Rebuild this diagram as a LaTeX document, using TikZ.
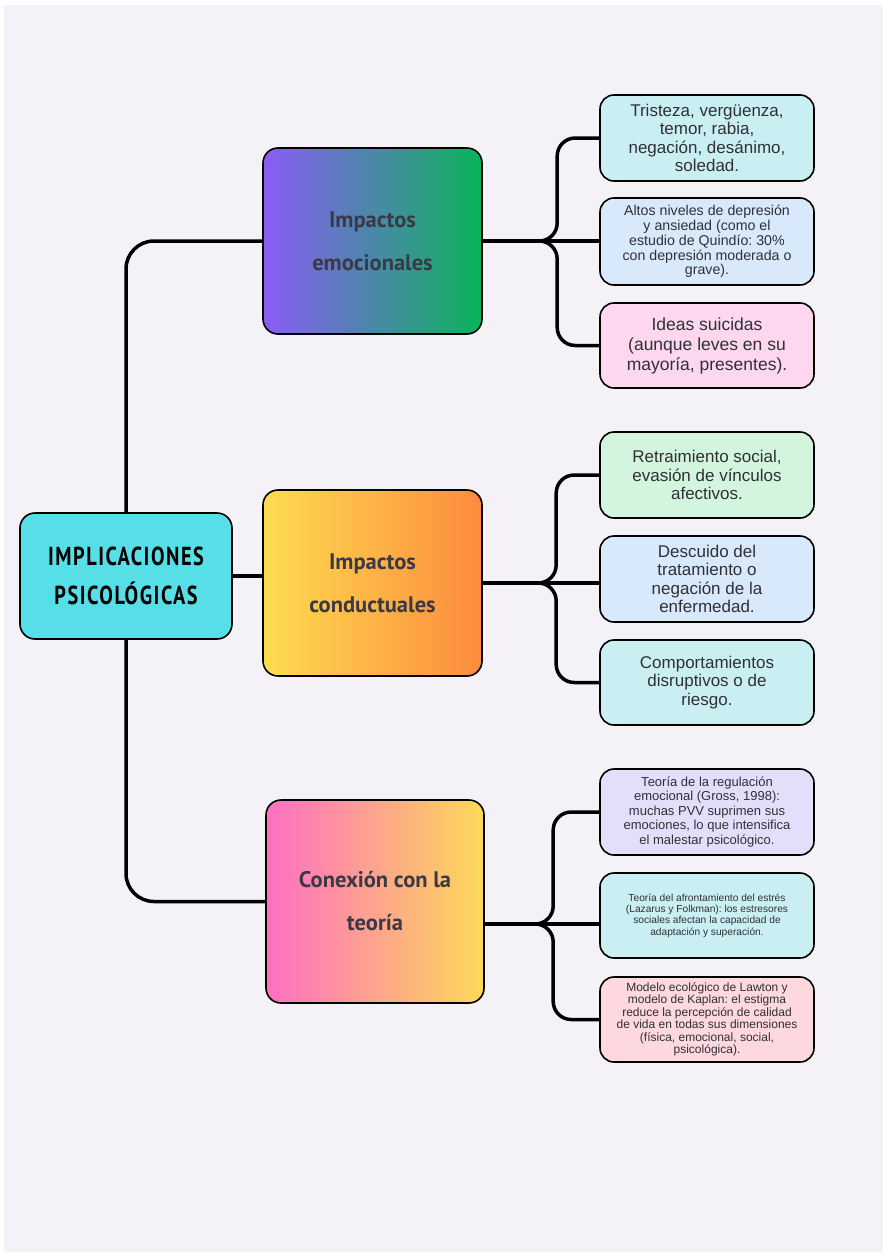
\documentclass[tikz,border=0pt]{standalone}
\usepackage{fontspec}
\setmainfont{Liberation Sans}
\newfontfamily\headfont{PT Sans}
\newfontfamily\rootfont{PT Sans}[FakeStretch=0.78,LetterSpace=6]
\usepackage{xcolor}
\definecolor{PageGray}{HTML}{F4F2F6}
\definecolor{InkGray}{HTML}{3A3946}
\definecolor{LeafInk}{HTML}{303036}
\definecolor{RootCyan}{HTML}{56DFE6}
\definecolor{EmoLeft}{HTML}{8B5CF6}
\definecolor{EmoRight}{HTML}{0AB45A}
\definecolor{CondLeft}{HTML}{FEDC4F}
\definecolor{CondRight}{HTML}{FD8B3E}
\definecolor{TeoLeft}{HTML}{FE6FC3}
\definecolor{TeoRight}{HTML}{FDD958}
\definecolor{LeafCyan}{HTML}{C9EFF2}
\definecolor{LeafBlue}{HTML}{D7E9FB}
\definecolor{LeafPink}{HTML}{FDD7F0}
\definecolor{LeafGreen}{HTML}{D3F5DD}
\definecolor{LeafLilac}{HTML}{E3DFFB}
\definecolor{LeafRose}{HTML}{FDD8DF}
\frenchspacing

\begin{document}
\begin{tikzpicture}[x=1pt, y=-1pt,
  topic/.style={draw=black, line width=1.6pt, rounded corners=15pt, text=InkGray,
    align=center, font=\headfont\bfseries\fontsize{22.5}{43}\selectfont},
  leaf/.style={draw=black, line width=1.6pt, rounded corners=14pt, text=LeafInk,
    align=center, minimum width=214pt},
  link/.style={line width=3.5pt}]
\useasboundingbox (0, 0) rectangle (883, 1255);
\fill[white] (0, 0) rectangle (883, 1255);
\fill[PageGray] (4, 5) rectangle (883, 1252);

% central topic
\node[topic, fill=RootCyan, minimum width=212pt, minimum height=126pt, text=black,
  font=\rootfont\bfseries\fontsize{26}{39}\selectfont] (root) at (126, 576)
  {IMPLICACIONES\\PSICOLÓGICAS};

% three branches
\node[topic, left color=EmoLeft, right color=EmoRight, minimum width=219pt, minimum height=186pt]
  (emo) at (372.5, 241) {Impactos\\emocionales};
\node[topic, left color=CondLeft, right color=CondRight, minimum width=219pt, minimum height=186pt]
  (cond) at (372.5, 583) {Impactos\\conductuales};
\node[topic, left color=TeoLeft, right color=TeoRight, minimum width=218pt, minimum height=203pt]
  (teo) at (375, 901.5) {Conexión con la\\teoría};

% leaves, emotional
\node[leaf, fill=LeafCyan, minimum height=86pt, font=\fontsize{17}{18.5}\selectfont] (c1) at (707, 138)
  {Tristeza, vergüenza,\\temor, rabia,\\negación, desánimo,\\soledad.};
\node[leaf, fill=LeafBlue, minimum height=87pt, font=\fontsize{14.2}{14.8}\selectfont] (c2) at (707, 241.5)
  {Altos niveles de depresión\\y ansiedad (como el\\estudio de Quindío: 30\%\\con depresión moderada o\\grave).};
\node[leaf, fill=LeafPink, minimum height=85pt, font=\fontsize{17.5}{20}\selectfont] (c3) at (707, 345.5)
  {Ideas suicidas\\(aunque leves en su\\mayoría, presentes).};

% leaves, behavioural
\node[leaf, fill=LeafGreen, minimum height=86pt, font=\fontsize{17}{18.5}\selectfont] (c4) at (707, 475)
  {Retraimiento social,\\evasión de vínculos\\afectivos.};
\node[leaf, fill=LeafBlue, minimum height=86pt, font=\fontsize{17}{18.5}\selectfont] (c5) at (707, 579)
  {Descuido del\\tratamiento o\\negación de la\\enfermedad.};
\node[leaf, fill=LeafCyan, minimum height=85pt, font=\fontsize{17}{18.5}\selectfont] (c6) at (707, 682.5)
  {Comportamientos\\disruptivos o de\\riesgo.};

% leaves, theory
\node[leaf, fill=LeafLilac, minimum height=86pt, font=\fontsize{13}{14.5}\selectfont] (c7) at (707, 812)
  {Teoría de la regulación\\emocional (Gross, 1998):\\muchas PVV suprimen sus\\emociones, lo que intensifica\\el malestar psicológico.};
\node[leaf, fill=LeafCyan, minimum height=85pt, font=\fontsize{10.2}{11.2}\selectfont] (c8) at (707, 915.5)
  {Teoría del afrontamiento del estrés\\(Lazarus y Folkman): los estresores\\sociales afectan la capacidad de\\adaptación y superación.};
\node[leaf, fill=LeafRose, minimum height=85pt, font=\fontsize{12}{12.5}\selectfont] (c9) at (707, 1019.5)
  {Modelo ecológico de Lawton y\\modelo de Kaplan: el estigma\\reduce la percepción de calidad\\de vida en todas sus dimensiones\\(física, emocional, social,\\psicológica).};

% root to branches
\draw[link, rounded corners=28pt] (root.north) |- (emo.west);
\draw[link, rounded corners=28pt] (root.south) |- (teo.west);
\draw[link] (root.east) -- (root.east -| cond.west);

% branch forks
\coordinate (j1) at (538, 241);
\coordinate (j2) at (538, 583);
\coordinate (j3) at (534, 924);
\draw[link] (emo.east) -- (emo.east -| c2.west);
\draw[link, rounded corners=18pt] (j1) -| ([xshift=-42pt]c1.west) -- (c1.west);
\draw[link, rounded corners=18pt] (j1) -| ([xshift=-42pt]c3.west) -- (c3.west);

\draw[link] (cond.east) -- (cond.east -| c5.west);
\draw[link, rounded corners=18pt] (j2) -| ([xshift=-43pt]c4.west) -- (c4.west);
\draw[link, rounded corners=18pt] (j2) -| ([xshift=-43pt]c6.west) -- (c6.west);

\draw[link] (teo.east |- j3) -- (j3 -| c8.west);
\draw[link, rounded corners=18pt] (j3) -| ([xshift=-46pt]c7.west) -- (c7.west);
\draw[link, rounded corners=18pt] (j3) -| ([xshift=-46pt]c9.west) -- (c9.west);
\end{tikzpicture}
\end{document}
